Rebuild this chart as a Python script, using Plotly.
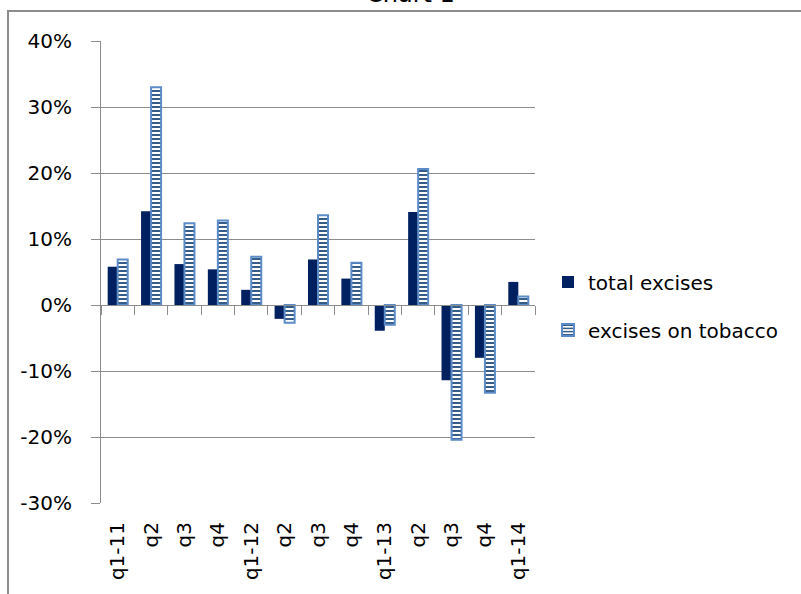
import plotly.graph_objects as go

# Quarterly growth of excise revenue, % change
quarters = ["q1-11", "q2", "q3", "q4", "q1-12", "q2", "q3", "q4",
            "q1-13", "q2", "q3", "q4", "q1-14"]
total_excises = [5.8, 14.2, 6.2, 5.4, 2.3, -2.1, 6.9, 4.0,
                 -3.9, 14.1, -11.4, -8.0, 3.5]
tobacco_excises = [6.9, 33.0, 12.4, 12.8, 7.3, -2.7, 13.6, 6.4,
                   -3.0, 20.6, -20.4, -13.3, 1.3]
y_ticks = [-30, -20, -10, 0, 10, 20, 30, 40]

W, H = 801, 594
M_L, M_R, M_T, M_B = 101, 266, 41, 91
FONT = "DejaVu Sans"
GRID = "#8c8c8c"

x_idx = list(range(len(quarters)))
x_range = [-0.5, len(quarters) - 0.5]
y_range = [y_ticks[0], y_ticks[-1]]

fig = go.Figure()
fig.add_trace(go.Bar(
    x=x_idx, y=total_excises, name="total excises",
    legendgroup="a",
    marker=dict(color="#002060", line=dict(width=0)),
))
fig.add_trace(go.Bar(
    x=x_idx, y=tobacco_excises, name="excises on tobacco",
    legendgroup="b",
    marker=dict(
        color="white",
        line=dict(color="#5b8cc8", width=2),
        pattern=dict(shape="-", fgcolor="#1f497d", bgcolor="white",
                     size=4, solidity=0.45, fillmode="replace"),
    ),
))
# helper trace so the category axis at zero is drawn
fig.add_trace(go.Scatter(x=x_range, y=[None, None], xaxis="x2",
                         showlegend=False, hoverinfo="skip"))

# paper-coordinate helpers for the chart frame
pw, ph = W - M_L - M_R, H - M_T - M_B
def px_x(p):
    return (p - M_L) / pw
def px_y(p):
    return (H - M_B - p) / ph

fig.update_layout(
    width=W, height=H,
    margin=dict(l=M_L, r=M_R, t=M_T, b=M_B, pad=0),
    paper_bgcolor="white", plot_bgcolor="white",
    barmode="group", bargap=0.4, bargroupgap=0.0,
    font=dict(family=FONT, size=20, color="#000000"),
    showlegend=True,
    legend=dict(
        x=px_x(548), xanchor="left", y=px_y(306), yanchor="middle",
        traceorder="grouped", tracegroupgap=19,
        font=dict(family=FONT, size=20, color="#000000"),
        bgcolor="rgba(0,0,0,0)", borderwidth=0,
    ),
    xaxis=dict(
        range=x_range, tickmode="array", tickvals=x_idx, ticktext=quarters,
        tickangle=-90, ticks="", showgrid=False, zeroline=False,
        showline=False, ticklabelstandoff=14,
        tickfont=dict(family=FONT, size=20, color="#000000"),
    ),
    xaxis2=dict(
        range=x_range, overlaying="x", anchor="free",
        position=(0 - y_range[0]) / (y_range[1] - y_range[0]),
        side="bottom", showgrid=False, zeroline=False,
        showline=True, linecolor=GRID, linewidth=1,
        ticks="outside", ticklen=9, tickcolor=GRID, tickwidth=1,
        tickmode="array",
        tickvals=[i - 0.5 for i in x_idx] + [x_idx[-1] + 0.5],
        showticklabels=False,
    ),
    yaxis=dict(
        range=y_range, tickmode="array", tickvals=y_ticks,
        ticktext=[f"{v}%" for v in y_ticks],
        showgrid=True, gridcolor=GRID, gridwidth=1,
        zeroline=False, showline=True, linecolor=GRID, linewidth=1,
        ticks="outside", ticklen=9, tickcolor=GRID, tickwidth=1,
        ticklabelstandoff=15,
        tickfont=dict(family=FONT, size=20, color="#000000"),
    ),
    shapes=[
        dict(type="line", xref="paper", yref="paper",
             x0=px_x(7), x1=px_x(W + 20), y0=px_y(11), y1=px_y(11),
             line=dict(color=GRID, width=2), layer="above"),
        dict(type="line", xref="paper", yref="paper",
             x0=px_x(8), x1=px_x(8), y0=px_y(10), y1=px_y(H + 20),
             line=dict(color=GRID, width=2), layer="above"),
    ],
    annotations=[
        dict(text="Chart 1", xref="paper", yref="paper",
             x=px_x(410), y=px_y(10), xanchor="center", yanchor="bottom",
             showarrow=False,
             font=dict(family=FONT, size=24, color="#000000")),
    ],
)

fig.write_html("out.html")
